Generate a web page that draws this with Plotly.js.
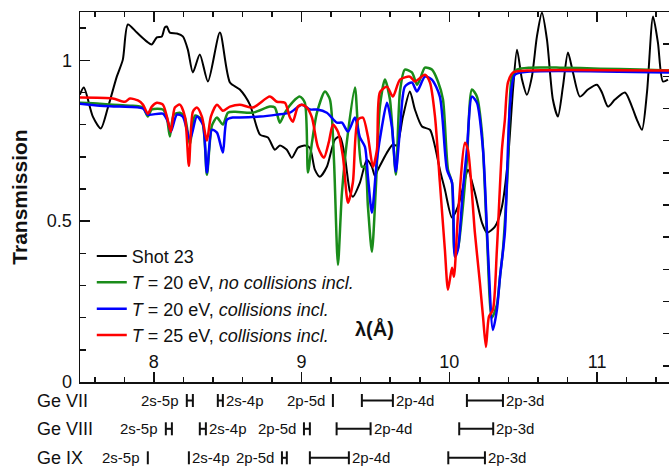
<!DOCTYPE html>
<html><head><meta charset="utf-8">
<script src="https://cdn.plot.ly/plotly-3.0.1.min.js"></script>
<style>html,body{margin:0;padding:0;background:#fff}#chart{width:669px;height:467px}</style>
</head><body><div id="chart"></div>
<script>
// ---- Data (wavelength in Å, transmission) ----
const lambdaShot = [7.499,7.526,7.587,7.641,7.689,7.749,7.790,7.824,7.885,7.953,7.986,8.020,8.054,8.074,8.088,8.108,8.156,8.196,8.230,8.264,8.311,8.366,8.447,8.515,8.582,8.650,8.718,8.772,8.819,8.853,8.900,8.934,8.975,9.022,9.056,9.090,9.124,9.171,9.225,9.259,9.293,9.327,9.347,9.395,9.442,9.476,9.496,9.517,9.578,9.618,9.645,9.686,9.733,9.767,9.815,9.869,9.903,9.936,9.970,10.018,10.058,10.106,10.126,10.173,10.221,10.255,10.309,10.356,10.397,10.431,10.458,10.492,10.525,10.559,10.593,10.627,10.661,10.701,10.735,10.769,10.803,10.837,10.884,10.938,10.999,11.033,11.074,11.121,11.189,11.236,11.270,11.304,11.338,11.379,11.412,11.446,11.480];
const transShot = [0.893,0.915,0.825,0.788,0.853,0.949,1.002,1.111,1.086,1.058,1.049,1.071,1.074,1.102,1.105,1.086,1.083,1.074,1.033,0.962,1.018,0.934,1.086,0.931,0.909,0.862,0.769,0.760,0.722,0.735,0.722,0.697,0.728,0.735,0.728,0.660,0.638,0.669,0.753,0.763,0.700,0.592,0.576,0.620,0.691,0.669,0.641,0.660,0.713,0.738,0.735,0.825,0.903,0.847,0.794,0.784,0.732,0.660,0.598,0.511,0.545,0.629,0.660,0.588,0.495,0.464,0.483,0.545,0.691,0.909,1.033,0.940,0.893,0.949,1.074,1.148,1.064,0.878,0.825,0.918,1.024,0.962,0.887,0.909,0.924,0.900,0.856,0.878,0.900,0.856,0.815,0.784,0.900,1.136,1.055,0.934,0.940];

const lambdaT20NoColl = [7.499,7.634,7.722,7.838,7.926,7.959,7.986,8.061,8.088,8.108,8.135,8.176,8.210,8.244,8.278,8.325,8.359,8.393,8.427,8.467,8.501,8.548,8.670,8.785,8.819,8.853,8.887,8.941,8.989,9.022,9.043,9.070,9.104,9.158,9.192,9.219,9.246,9.273,9.314,9.361,9.381,9.408,9.429,9.449,9.476,9.503,9.530,9.564,9.598,9.638,9.666,9.699,9.747,9.781,9.801,9.835,9.882,9.923,9.957,9.991,10.018,10.038,10.058,10.085,10.119,10.153,10.187,10.221,10.255,10.288,10.322,10.343,10.363,10.397,10.424,10.458,10.546,10.749,11.020,11.290,11.487];
const transT20NoColl = [0.868,0.865,0.862,0.859,0.853,0.825,0.847,0.847,0.822,0.763,0.831,0.837,0.822,0.738,0.828,0.815,0.644,0.797,0.822,0.800,0.837,0.840,0.837,0.856,0.853,0.806,0.837,0.871,0.887,0.868,0.651,0.744,0.837,0.903,0.878,0.691,0.364,0.588,0.775,0.915,0.794,0.669,0.669,0.545,0.405,0.607,0.856,0.940,0.878,0.644,0.903,0.971,0.962,0.924,0.940,0.977,0.971,0.934,0.878,0.660,0.620,0.400,0.415,0.514,0.691,0.909,0.887,0.775,0.451,0.200,0.240,0.327,0.411,0.669,0.949,0.971,0.977,0.977,0.974,0.971,0.968];

const lambdaT20Coll = [7.499,7.634,7.770,7.926,7.959,8.061,8.095,8.115,8.156,8.196,8.244,8.291,8.332,8.359,8.393,8.427,8.467,8.494,8.535,8.582,8.718,8.833,8.921,9.002,9.056,9.104,9.171,9.239,9.273,9.314,9.361,9.395,9.429,9.449,9.476,9.510,9.544,9.578,9.611,9.638,9.666,9.699,9.747,9.781,9.835,9.882,9.936,9.984,10.018,10.038,10.058,10.092,10.119,10.153,10.187,10.228,10.261,10.295,10.322,10.343,10.376,10.410,10.444,10.546,11.487];
const transT20Coll = [0.865,0.859,0.856,0.850,0.831,0.834,0.809,0.778,0.831,0.825,0.753,0.825,0.800,0.651,0.784,0.775,0.713,0.815,0.822,0.822,0.825,0.831,0.837,0.862,0.847,0.847,0.837,0.806,0.806,0.778,0.822,0.760,0.731,0.638,0.526,0.691,0.794,0.868,0.794,0.654,0.784,0.918,0.931,0.903,0.949,0.940,0.887,0.660,0.620,0.389,0.411,0.598,0.722,0.887,0.868,0.722,0.411,0.162,0.224,0.327,0.464,0.856,0.955,0.965,0.962];

const lambdaT25Coll = [7.499,7.722,7.804,7.838,7.892,7.926,7.959,7.986,8.020,8.061,8.088,8.115,8.142,8.176,8.210,8.237,8.264,8.291,8.325,8.359,8.386,8.427,8.467,8.515,8.582,8.670,8.785,8.833,8.887,8.921,8.941,8.975,9.002,9.036,9.070,9.110,9.151,9.185,9.212,9.246,9.280,9.314,9.347,9.381,9.415,9.449,9.483,9.510,9.530,9.578,9.618,9.666,9.733,9.767,9.835,9.869,9.903,9.936,9.970,9.991,10.018,10.031,10.058,10.106,10.126,10.173,10.207,10.228,10.248,10.268,10.295,10.322,10.356,10.376,10.397,10.431,10.525,11.487];
const transT25Coll = [0.884,0.881,0.871,0.881,0.875,0.862,0.834,0.856,0.868,0.862,0.825,0.778,0.853,0.862,0.825,0.672,0.840,0.853,0.825,0.750,0.825,0.862,0.843,0.856,0.862,0.853,0.887,0.871,0.868,0.822,0.809,0.856,0.862,0.853,0.822,0.731,0.697,0.747,0.800,0.778,0.700,0.557,0.620,0.815,0.822,0.763,0.669,0.722,0.900,0.918,0.887,0.940,0.949,0.934,0.955,0.931,0.825,0.620,0.411,0.287,0.355,0.327,0.514,0.744,0.722,0.464,0.308,0.203,0.109,0.203,0.224,0.411,0.722,0.815,0.931,0.962,0.968,0.968];

const seriesNames = ['Shot 23',
  '<i>T</i> = 20 eV, <i>no collisions incl.</i>',
  '<i>T</i> = 20 eV, <i>collisions incl.</i>',
  '<i>T</i> = 25 eV, <i>collisions incl.</i>'];

// Line identifications (wavelength ranges, Å)
const ionNames = ['Ge VII', 'Ge VIII', 'Ge IX'];
const transitionLabels = ['2s-5p', '2s-4p', '2p-5d', '2p-4d', '2p-3d'];
const labelOnLeft = [true, false, true, false, false];
const geVIIFrom  = [8.223, 8.433, 9.212, 9.408, 10.119];
const geVIITo    = [8.264, 8.467, 9.212, 9.618, 10.363];
const geVIIIFrom = [8.081, 8.311, 9.016, 9.237, 10.067];
const geVIIITo   = [8.122, 8.352, 9.056, 9.467, 10.297];
const geIXFrom   = [7.959, 8.237, 8.867, 9.056, 9.993];
const geIXTo     = [7.959, 8.237, 8.900, 9.320, 10.241];

// ---- Styling ----
const FONT = 'Arial, "Liberation Sans", sans-serif';
const AX = '#111';
const rowOffsets = [18.5, 46.8, 75.8];   // px below the x axis
const rowsFrom = [geVIIFrom, geVIIIFrom, geIXFrom];
const rowsTo = [geVIITo, geVIIITo, geIXTo];

const lineStyle = (c, w) => ({color: c, width: w, shape: 'spline', smoothing: 0.7});
const traces = [
  {x: lambdaShot, y: transShot, name: seriesNames[0], mode: 'lines', line: lineStyle('#000000', 2)},
  {x: lambdaT20NoColl, y: transT20NoColl, name: seriesNames[1], mode: 'lines', line: lineStyle('#1a8c1a', 2.5)},
  {x: lambdaT20Coll, y: transT20Coll, name: seriesNames[2], mode: 'lines', line: lineStyle('#0000ff', 2.5)},
  {x: lambdaT25Coll, y: transT25Coll, name: seriesNames[3], mode: 'lines', line: lineStyle('#ff0000', 2.5)},
  {x: [], y: [], yaxis: 'y2', showlegend: false, hoverinfo: 'skip', mode: 'lines'}
];

const shapes = [];
const annotations = [];
rowsFrom.forEach((fromArr, r) => {
  const off = rowOffsets[r];
  annotations.push({text: ionNames[r], xref: 'paper', x: 0, xanchor: 'left', xshift: -45,
    yref: 'paper', y: 0, yanchor: 'middle', yshift: -off, showarrow: false,
    font: {family: FONT, size: 18, color: '#111'}});
  fromArr.forEach((f, i) => {
    const t = rowsTo[r][i];
    const base = {type: 'line', xref: 'x', yref: 'paper', ysizemode: 'pixel', yanchor: 0,
      line: {color: '#111', width: 2}, layer: 'above'};
    if (t > f) shapes.push(Object.assign({}, base, {x0: f, x1: t, y0: -off, y1: -off}));
    shapes.push(Object.assign({}, base, {x0: f, x1: f, y0: -off - 6.5, y1: -off + 6.5}));
    if (t > f) shapes.push(Object.assign({}, base, {x0: t, x1: t, y0: -off - 6.5, y1: -off + 6.5}));
    const left = labelOnLeft[i];
    annotations.push({text: transitionLabels[i], xref: 'x', x: left ? f : t,
      xanchor: left ? 'right' : 'left', xshift: left ? -6 : 1,
      yref: 'paper', y: 0, yanchor: 'middle', yshift: -off, showarrow: false,
      font: {family: FONT, size: 15, color: '#111'}});
  });
});
annotations.push({text: '<b>λ(Å)</b>', xref: 'paper', x: 0.5, yref: 'paper', y: 0.145,
  xanchor: 'center', yanchor: 'middle', showarrow: false,
  font: {family: FONT, size: 20, color: '#111'}});

const layout = {
  width: 669, height: 467,
  margin: {l: 80, r: 0, t: 12, b: 85, pad: 0},
  paper_bgcolor: '#fff', plot_bgcolor: '#fff',
  font: {family: FONT, size: 18, color: '#111'},
  showlegend: true,
  legend: {x: 0.02, y: 0.39, xanchor: 'left', yanchor: 'top', bgcolor: 'rgba(0,0,0,0)',
    font: {family: FONT, size: 18, color: '#111'}, tracegroupgap: 0},
  xaxis: {range: [7.5, 11.487], showgrid: false, zeroline: false,
    showline: true, linecolor: AX, linewidth: 1.5, mirror: 'ticks',
    ticks: 'inside', ticklen: 10, tickwidth: 1.5, tickcolor: AX,
    tick0: 8, dtick: 1, ticklabelposition: 'outside', ticklabelstandoff: -37,
    tickfont: {family: FONT, size: 18, color: '#111'},
    minor: {dtick: 0.2, ticks: 'inside', ticklen: 5, tickwidth: 1.5, tickcolor: AX, showgrid: false}},
  yaxis: {range: [0, 1.15], showgrid: false, zeroline: false,
    showline: true, linecolor: AX, linewidth: 1.5,
    ticks: 'inside', ticklen: 10, tickwidth: 1.5, tickcolor: AX,
    tick0: 0, dtick: 0.5, ticklabelstandoff: 3,
    tickfont: {family: FONT, size: 18, color: '#111'},
    title: {text: '<b>Transmission</b>', font: {family: FONT, size: 21, color: '#111'}, standoff: 13},
    minor: {dtick: 0.1, ticks: 'inside', ticklen: 6, tickwidth: 1.5, tickcolor: AX, showgrid: false}},
  yaxis2: {overlaying: 'y', side: 'right', range: [0, 1.15], showgrid: false, zeroline: false,
    showline: false, ticks: 'inside', ticklen: 6, tickwidth: 1.5, tickcolor: AX,
    tick0: 0.05, dtick: 0.1, showticklabels: false},
  shapes: shapes,
  annotations: annotations
};

Plotly.newPlot('chart', traces, layout, {displayModeBar: false, staticPlot: true});
</script></body></html>
